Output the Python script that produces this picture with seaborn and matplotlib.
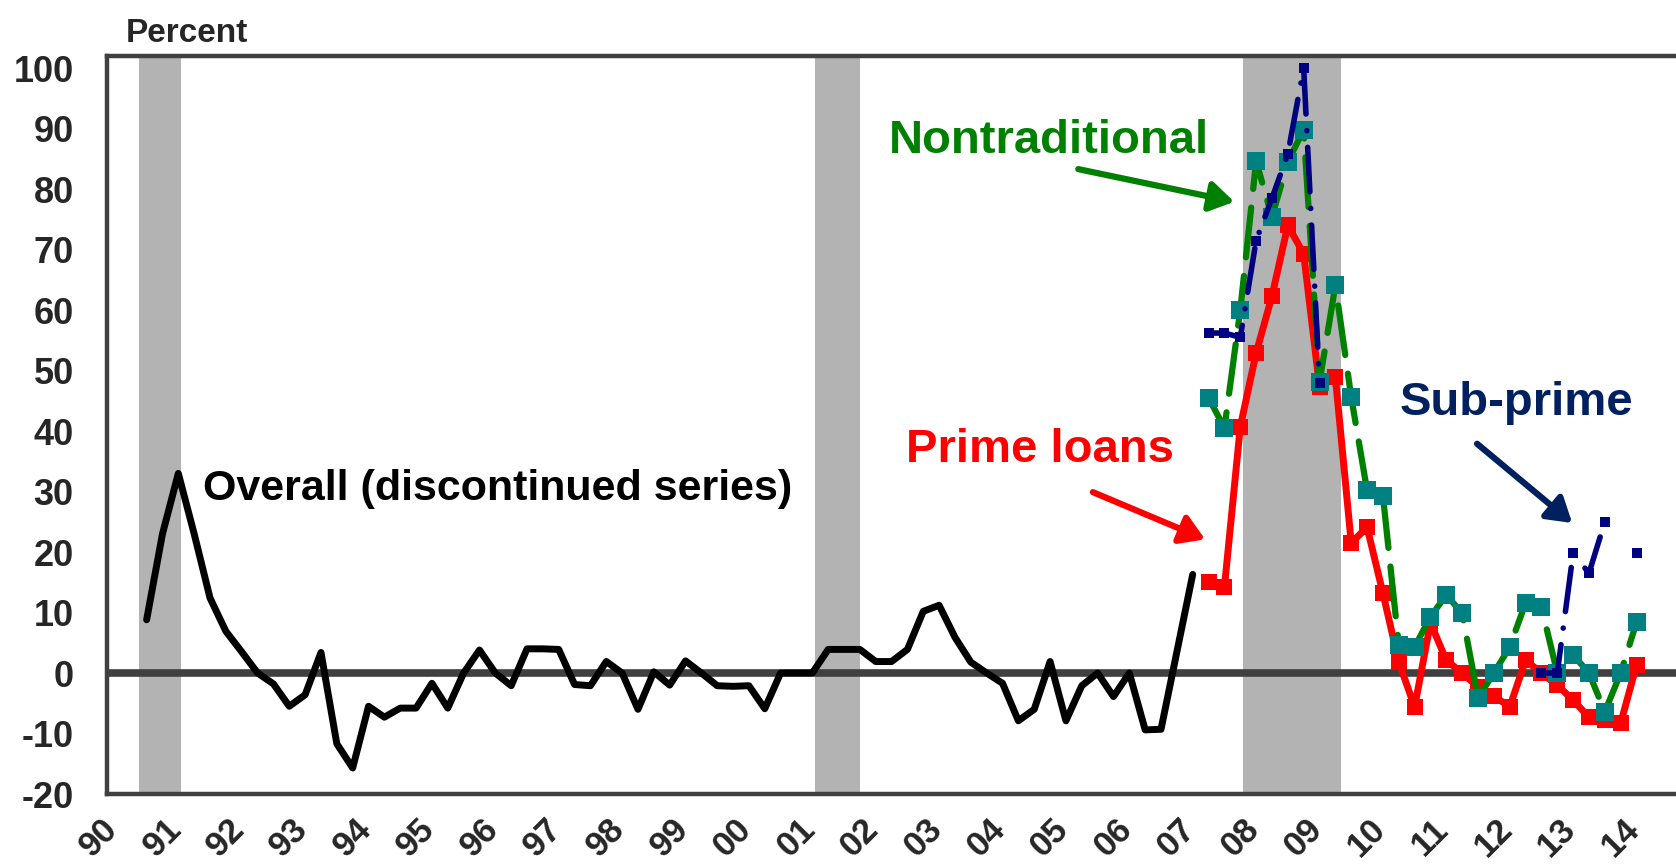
import numpy as np
import pandas as pd
import matplotlib
matplotlib.use("Agg")
import matplotlib.pyplot as plt
import matplotlib.transforms as mtransforms
import seaborn as sns

# Quarterly net percentage of banks tightening mortgage standards
overall_start = 1990.625          # 1990Q3, plotted at mid-quarter
overall = [8.8, 23, 33, 23, 12.4, 6.9, 3.5, 0, -1.8, -5.5,
           -3.6, 3.4, -11.7, -15.7, -5.5, -7.3, -5.8, -5.8, -1.7, -5.8,
           0, 3.8, 0, -2.1, 4, 4, 3.9, -1.9, -2.1, 1.9,
           0, -6, 0.2, -2, 2, 0, -2.1, -2.2, -2.1, -5.9,
           0, 0, 0, 3.9, 3.9, 3.9, 1.9, 1.9, 3.9, 10.2,
           11.2, 5.9, 1.8, 0, -1.7, -7.9, -6, 1.9, -7.9, -2.1,
           0, -3.9, 0, -9.4, -9.3, 3.5, 16.3]

new_start = 2007.375              # 2007Q2
prime = [15, 14.2, 40.7, 52.9, 62.3, 74, 69.3, 47.3, 48.9, 21.5,
         24.1, 13.2, 1.8, -5.6, 8.3, 2.1, 0, -2.3, -3.8, -5.6,
         2.1, 0, -2, -4.5, -7.3, -7.8, -8.3, 1.3]
nontraditional = [45.5, 40.5, 60, 84.6, 75.4, 84.5, 89.8, 48.1, 64.1, 45.6,
                  30.2, 29.3, 4.6, 4.3, 9.3, 12.9, 9.9, -4.1, 0, 4.3,
                  11.6, 10.9, 0, 3, 0, -6.4, 0, 8.4]
subprime = [56.2, 56.2, 55.5, 71.5, 78.5, 85.8, 100, 48] + [np.nan] * 13 + \
           [0, 0, 19.8, 16.5, 25, np.nan, 19.8]

recessions = [(1990.5, 1991.17), (2001.17, 2001.88), (2007.92, 2009.46)]
years = list(range(1990, 2015))
year_labels = [f"{y % 100:02d}" for y in years]
y_ticks = list(range(-20, 101, 10))


def quarter_axis(start, n):
    return start + 0.25 * np.arange(n)


sns.set_style("white")
plt.rcParams["font.family"] = ["Liberation Sans", "DejaVu Sans"]
plt.rcParams["font.weight"] = "bold"

W, H = 1676, 867
fig = plt.figure(figsize=(W / 100, H / 100), dpi=100)
ax = fig.add_axes([107 / W, (H - 794) / H, (1692 - 107) / W, (794 - 56) / H])

frame = "#404040"
for a, b in recessions:
    ax.axvspan(a, b, color="#B3B3B3", lw=0, zorder=0.5)
ax.axhline(0, color=frame, lw=5.5, zorder=1)

# Overall (discontinued) series
df_all = pd.DataFrame({"t": quarter_axis(overall_start, len(overall)), "v": overall})
sns.lineplot(data=df_all, x="t", y="v", ax=ax, color="black", lw=5,
             solid_joinstyle="round", solid_capstyle="round", zorder=3)

t_new = quarter_axis(new_start, len(prime))
df_new = pd.DataFrame({"t": t_new, "prime": prime, "nontrad": nontraditional,
                       "sub": subprime})

sns.lineplot(data=df_new, x="t", y="prime", ax=ax, color="#FF0000", lw=5,
             marker="s", markersize=11, markerfacecolor="#FF0000",
             markeredgecolor="#FF0000", markeredgewidth=0,
             solid_joinstyle="round", zorder=4)

sns.lineplot(data=df_new, x="t", y="nontrad", ax=ax, color="#008000", lw=4.5,
             linestyle=(0, (8, 3)), dash_capstyle="round",
             marker="s", markersize=13.5, markerfacecolor="#008080",
             markeredgecolor="#008080", markeredgewidth=0, zorder=5)

# Sub-prime series has gaps; draw each contiguous run separately
sub = df_new["sub"]
grp = sub.isna().cumsum()
for _, seg in df_new[sub.notna()].groupby(grp[sub.notna()]):
    sns.lineplot(data=seg, x="t", y="sub", ax=ax, color="#000080", lw=4,
                 linestyle=(0, (8, 3, 0.01, 3)), dash_capstyle="round",
                 marker="s", markersize=7, markerfacecolor="#000080",
                 markeredgecolor="#000080", markeredgewidth=0, zorder=6)

ax.set_xlim(1990, 2015)
ax.set_ylim(-20, 102)
ax.set_xlabel("")
ax.set_ylabel("")
ax.set_xticks(years)
ax.set_xticklabels(year_labels, rotation=45, ha="center", fontsize=25,
                   fontweight="bold")
ax.set_yticks(y_ticks)
ax.set_yticklabels([str(v) for v in y_ticks], fontsize=26, fontweight="bold")
ax.tick_params(axis="x", length=0, pad=13)
ax.tick_params(axis="y", length=0, pad=24)
shift = mtransforms.ScaledTranslation(-8 / 100, 0, fig.dpi_scale_trans)
for lab in ax.get_xticklabels():
    lab.set_transform(lab.get_transform() + shift)

for side in ["left", "top", "bottom"]:
    ax.spines[side].set_color(frame)
    ax.spines[side].set_linewidth(3.2)
ax.spines["right"].set_visible(False)

fig.text(126 / W, 1 - 42 / H, "Percent", fontsize=24, fontweight="bold",
         va="baseline", ha="left")

ax.text(1991.51, 30.5, "Overall (discontinued series)", fontsize=31,
        fontweight="bold", color="black", ha="left", va="center")
ax.text(2002.33, 87.9, "Nontraditional", fontsize=34, fontweight="bold",
        color="#008000", ha="left", va="center")
ax.text(2002.6, 36.9, "Prime loans", fontsize=34, fontweight="bold",
        color="#FF0000", ha="left", va="center")
ax.text(2010.39, 44.6, "Sub-prime", fontsize=34, fontweight="bold",
        color="#002060", ha="left", va="center")

arrow = dict(arrowstyle="-|>,head_length=0.4,head_width=0.25", lw=4.5,
             mutation_scale=36, shrinkA=0, shrinkB=0)
ax.annotate("", xy=(2007.78, 77.9), xytext=(2005.32, 83.3),
            arrowprops=dict(arrow, color="#008000"), zorder=7)
ax.annotate("", xy=(2007.32, 22.1), xytext=(2005.55, 29.9),
            arrowprops=dict(arrow, color="#FF0000"), zorder=7)
ax.annotate("", xy=(2013.11, 24.8), xytext=(2011.61, 37.9),
            arrowprops=dict(arrow, color="#002060"), zorder=7)

if ax.get_legend() is not None:
    ax.get_legend().remove()
fig.savefig("out.png", dpi=100)
